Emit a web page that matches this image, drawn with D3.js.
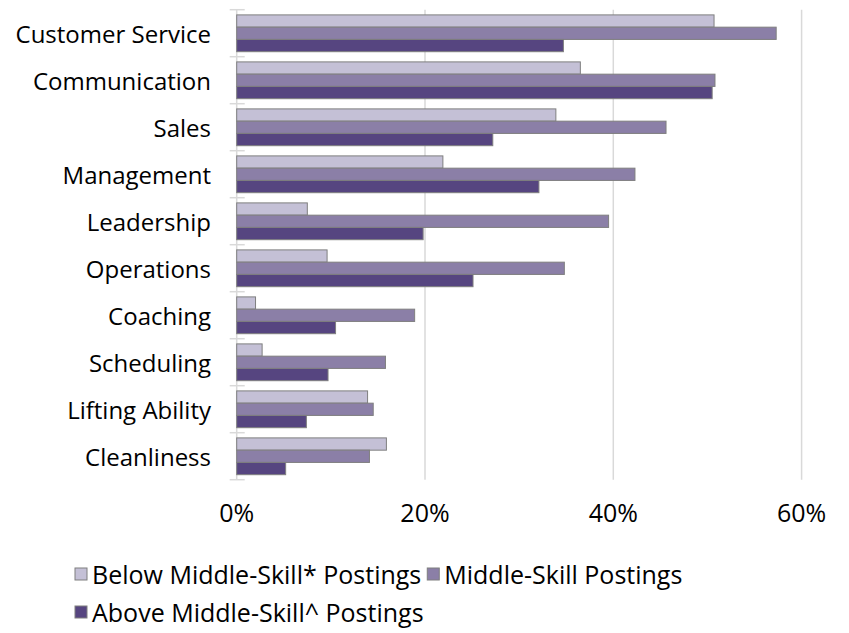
<!DOCTYPE html>
<html>
<head>
<meta charset="utf-8">
<script src="https://cdn.jsdelivr.net/npm/d3@7/dist/d3.min.js"></script>
<style>
  html, body { margin: 0; padding: 0; background: #fff; }
  svg { display: block; font-family: "Open Sans", "Noto Sans", sans-serif; }
</style>
</head>
<body>
<svg id="chart" width="849" height="633"></svg>
<script>
const categories = ["Customer Service", "Communication", "Sales", "Management", "Leadership",
                    "Operations", "Coaching", "Scheduling", "Lifting Ability", "Cleanliness"];
const seriesNames = ["Below Middle-Skill* Postings", "Middle-Skill Postings", "Above Middle-Skill^ Postings"];
const belowMiddle = [0.507, 0.365, 0.339, 0.219, 0.075, 0.096, 0.020, 0.027, 0.139, 0.159];
const middle      = [0.573, 0.508, 0.456, 0.423, 0.395, 0.348, 0.189, 0.158, 0.145, 0.141];
const aboveMiddle = [0.347, 0.505, 0.272, 0.321, 0.198, 0.251, 0.105, 0.097, 0.074, 0.052];
const tickValues = [0, 0.2, 0.4, 0.6];
const colors = ["#c4c0d6", "#8b7fa7", "#564580"];

const seriesValues = [belowMiddle, middle, aboveMiddle];
const svg = d3.select("#chart");

const x = d3.scaleLinear().domain([0, 0.6]).range([236.7, 801.6]);
const y = d3.scaleBand().domain(categories).range([9.7, 479.7]).paddingInner(0).paddingOuter(0);
const yInner = d3.scaleBand().domain(d3.range(3)).range([5.2, 42]).padding(0);

// gridlines
svg.append("g").selectAll("line").data(tickValues.slice(1)).join("line")
  .attr("x1", d => x(d)).attr("x2", d => x(d))
  .attr("y1", 9.7).attr("y2", 479.7)
  .attr("stroke", "#d9d9d9").attr("stroke-width", 1.5);

// y axis line and ticks
svg.append("line").attr("x1", x(0)).attr("x2", x(0)).attr("y1", 9.7).attr("y2", 479.7)
  .attr("stroke", "#d9d9d9").attr("stroke-width", 1.5);
const boundaries = categories.map(c => y(c)).concat([y(categories[categories.length - 1]) + y.bandwidth()]);
svg.append("g").selectAll("line").data(boundaries).join("line")
  .attr("x1", x(0) - 7).attr("x2", x(0) + 8)
  .attr("y1", d => d).attr("y2", d => d)
  .attr("stroke", "#d9d9d9").attr("stroke-width", 1.5);

// bars
const groups = svg.append("g").selectAll("g").data(categories).join("g")
  .attr("transform", c => `translate(0,${y(c)})`);
groups.selectAll("rect").data((c, i) => seriesValues.map((s, k) => ({k, v: s[i]}))).join("rect")
  .attr("x", x(0))
  .attr("y", d => yInner(d.k))
  .attr("width", d => x(d.v) - x(0))
  .attr("height", yInner.bandwidth())
  .attr("fill", d => colors[d.k])
  .attr("stroke", "#7f7f7f").attr("stroke-width", 1);

// category labels
svg.append("g").selectAll("text").data(categories).join("text")
  .attr("x", 211).attr("y", c => y(c) + y.bandwidth() / 2)
  .attr("text-anchor", "end").attr("dominant-baseline", "central")
  .attr("font-size", 24).attr("fill", "#000")
  .text(c => c);

// x tick labels
svg.append("g").selectAll("text").data(tickValues).join("text")
  .attr("x", d => x(d)).attr("y", 522)
  .attr("text-anchor", "middle")
  .attr("font-size", 25).attr("fill", "#000")
  .text(d => d3.format(".0%")(d));

// legend
function legendItem(k, lx, ly) {
  const g = svg.append("g").attr("transform", `translate(${lx},${ly})`);
  g.append("rect").attr("width", 12).attr("height", 12)
    .attr("fill", colors[k]).attr("stroke", "#7f7f7f").attr("stroke-width", 1);
  const t = g.append("text").attr("x", 17).attr("y", 6).attr("dominant-baseline", "central")
    .attr("font-size", 25).attr("fill", "#000")
    .text(seriesNames[k]);
  return lx + 17 + t.node().getComputedTextLength();
}
const end0 = legendItem(0, 75, 568);
legendItem(1, Math.max(422, end0 + 6), 568);
legendItem(2, 75, 606);
</script>
</body>
</html>
